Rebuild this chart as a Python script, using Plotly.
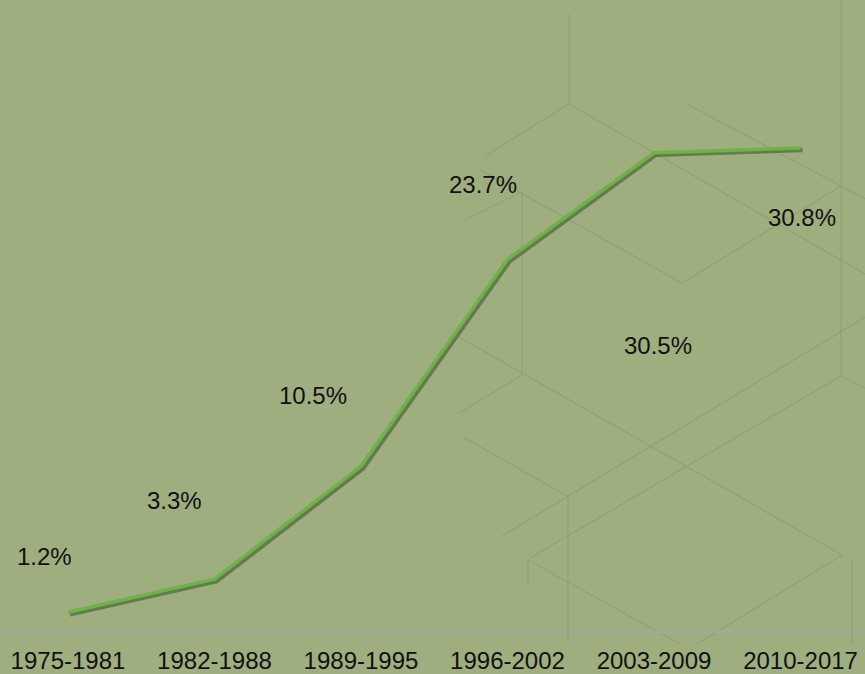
import plotly.graph_objects as go

# ---- data ----
categories = ["1975-1981", "1982-1988", "1989-1995", "1996-2002", "2003-2009", "2010-2017"]
values = [1.2, 3.3, 10.5, 23.7, 30.5, 30.8]
value_labels = ["1.2%", "3.3%", "10.5%", "23.7%", "30.5%", "30.8%"]

# label placement offsets (category units, value units)
label_dx = [-0.157, -0.270, -0.328, -0.167, 0.027, 0.010]
label_dy = [3.58, 5.05, 4.49, 4.80, -12.32, -4.40]

W, H = 865, 674
PLOT_H = 631
xr = [-0.464, 5.44]
yr = [0, 40.24]
px_x = W / (xr[1] - xr[0])
px_y = PLOT_H / (yr[1] - yr[0])
SH = 2.0  # shadow offset px

idx = list(range(len(categories)))

fig = go.Figure()
# shadow (base axes, shifted ranges)
fig.add_trace(go.Scatter(x=idx, y=values, mode="lines", xaxis="x", yaxis="y",
                         line=dict(color="rgba(50,65,40,0.5)", width=4.5),
                         hoverinfo="skip", showlegend=False))
# main line (overlay axes)
fig.add_trace(go.Scatter(x=idx, y=values, mode="lines", xaxis="x2", yaxis="y2",
                         line=dict(color="#6cb446", width=3.5),
                         showlegend=False))

# decorative background lines (pixel coords)
deco = [
    ((569, 14), (569, 104)),
    ((569, 104), (485, 156)),
    ((569, 104), (865, 274)),
    ((687, 104), (841, 186)),
    ((841, 186), (865, 199)),
    ((841, 0), (841, 375)),
    ((841, 186), (682, 283)),
    ((480, 170), (682, 283)),
    ((463, 221), (522, 192)),
    ((522, 192), (522, 375)),
    ((459, 337), (842, 555)),
    ((522, 375), (459, 413)),
    ((463, 437), (567, 496)),
    ((568, 496), (568, 640)),
    ((502, 536), (865, 317)),
    ((530, 558), (841, 376)),
    ((841, 376), (865, 388)),
    ((528, 560), (528, 585)),
    ((528, 560), (680, 644)),
    ((842, 555), (697, 644)),
    ((852, 560), (852, 644)),
]
shapes = []
for (x0, y0), (x1, y1) in deco:
    shapes.append(dict(type="line", xref="paper", yref="paper", layer="below",
                       x0=x0 / W, y0=(PLOT_H - y0) / PLOT_H,
                       x1=x1 / W, y1=(PLOT_H - y1) / PLOT_H,
                       line=dict(color="#92a373", width=1.3)))

annotations = []
for i, (v, t) in enumerate(zip(values, value_labels)):
    annotations.append(dict(x=i + label_dx[i], y=v + label_dy[i], xref="x2", yref="y2",
                            text=t, showarrow=False,
                            font=dict(family="Liberation Sans, Arial", size=24, color="#111111")))

fig.update_layout(
    width=W, height=H,
    margin=dict(l=0, r=0, t=0, b=H - PLOT_H, autoexpand=False),
    paper_bgcolor="#9fae7f", plot_bgcolor="#9fae7f",
    shapes=shapes, annotations=annotations,
    xaxis=dict(range=[xr[0] - SH / px_x, xr[1] - SH / px_x], visible=False,
               fixedrange=True, automargin=False),
    yaxis=dict(range=[yr[0] + SH / px_y, yr[1] + SH / px_y], visible=False,
               fixedrange=True, automargin=False),
    xaxis2=dict(range=xr, overlaying="x", tickmode="array", tickvals=idx, ticktext=categories,
                showgrid=False, zeroline=False, showline=True, linecolor="#a4a79c", linewidth=2,
                ticks="", ticklabelstandoff=7, automargin=False, fixedrange=True,
                tickfont=dict(family="Liberation Sans, Arial", size=24, color="#111111")),
    yaxis2=dict(range=yr, overlaying="y", visible=False, automargin=False, fixedrange=True),
    showlegend=False,
)

fig.write_html("out.html", config={"displayModeBar": False},
               post_script="document.body.style.margin='0';document.body.style.overflow='hidden';")
